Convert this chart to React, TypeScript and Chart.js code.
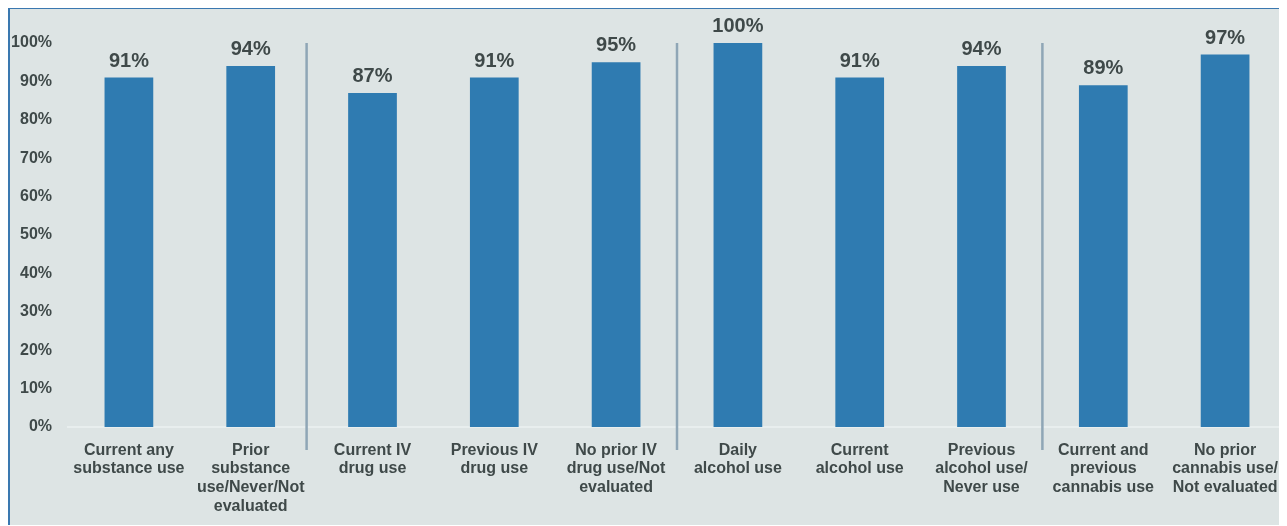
import React, { useEffect, useRef } from "react";
import { Chart, registerables } from "chart.js";

Chart.register(...registerables);

const categories: string[][] = [
  ["Current any", "substance use"],
  ["Prior", "substance", "use/Never/Not", "evaluated"],
  ["Current IV", "drug use"],
  ["Previous IV", "drug use"],
  ["No prior IV", "drug use/Not", "evaluated"],
  ["Daily", "alcohol use"],
  ["Current", "alcohol use"],
  ["Previous", "alcohol use/", "Never use"],
  ["Current and", "previous", "cannabis use"],
  ["No prior", "cannabis use/", "Not evaluated"],
];
const values: number[] = [91, 94, 87, 91, 95, 100, 91, 94, 89, 97];
const groupBreaks: number[] = [1, 4, 7]; // separator after these category indices
const yTicks: number[] = [0, 10, 20, 30, 40, 50, 60, 70, 80, 90, 100];

const TEXT = "#3f4949";
const FONT = "'Liberation Sans', Arial, sans-serif";

const overlayPlugin = {
  id: "overlay",
  afterDatasetsDraw(chart: any) {
    const ctx = chart.ctx;
    const meta = chart.getDatasetMeta(0);
    const xs = chart.scales.x;
    const ys = chart.scales.y;
    ctx.save();
    // separators
    ctx.strokeStyle = "#8fa6b6";
    ctx.lineWidth = 2.5;
    groupBreaks.forEach((i, k) => {
      const shift = k === 0 ? -5 : 0;
      const x = (xs.getPixelForValue(i) + xs.getPixelForValue(i + 1)) / 2 + shift;
      ctx.beginPath();
      ctx.moveTo(x, ys.getPixelForValue(100));
      ctx.lineTo(x, ys.getPixelForValue(0) + 23);
      ctx.stroke();
    });
    // data labels
    ctx.fillStyle = TEXT;
    ctx.font = `bold 20px ${FONT}`;
    ctx.textAlign = "center";
    ctx.textBaseline = "alphabetic";
    meta.data.forEach((bar: any, i: number) => {
      ctx.fillText(values[i] + "%", bar.x, bar.y - 11);
    });
    ctx.restore();
  },
};

export default function App() {
  const ref = useRef<HTMLCanvasElement>(null);
  useEffect(() => {
    if (!ref.current) return;
    const chart = new Chart(ref.current, {
      type: "bar",
      data: {
        labels: categories,
        datasets: [
          {
            data: values,
            backgroundColor: "#2f7bb1",
            categoryPercentage: 1,
            barPercentage: 0.4,
          },
        ],
      },
      options: {
        responsive: false,
        animation: false,
        layout: { padding: { top: 34, left: 0, right: 1, bottom: 0 } },
        plugins: {
          legend: { display: false },
          tooltip: { enabled: false },
        },
        scales: {
          x: {
            grid: { display: false, drawTicks: false },
            border: { display: true, color: "#e8eeee", width: 2 },
            ticks: {
              color: TEXT,
              font: { family: FONT, size: 16, weight: "bold", lineHeight: 1.17 },
              padding: 14,
              maxRotation: 0,
              autoSkip: false,
            },
            afterFit: (s: any) => {
              s.height = 98;
              s.paddingLeft = 0;
              s.paddingRight = 0;
            },
          },
          y: {
            min: 0,
            max: 100,
            afterBuildTicks: (s: any) => {
              s.ticks = yTicks.map((v) => ({ value: v }));
            },
            grid: { display: false, drawTicks: false },
            border: { display: false },
            ticks: {
              color: TEXT,
              font: { family: FONT, size: 16, weight: "bold" },
              padding: 16,
              callback: (v: any) => v + "%",
            },
            afterFit: (s: any) => {
              s.width = 58;
            },
          },
        },
      },
      plugins: [overlayPlugin],
    });
    return () => chart.destroy();
  }, []);

  return (
    <div
      style={{
        width: 1279,
        height: 518,
        background: "#dde4e4",
        borderTop: "2px solid #3a78b0",
        borderLeft: "2px solid #3a78b0",
        boxSizing: "border-box",
        marginTop: -1,
      }}
    >
      <canvas ref={ref} width={1277} height={516} style={{ display: "block" }} />
    </div>
  );
}
